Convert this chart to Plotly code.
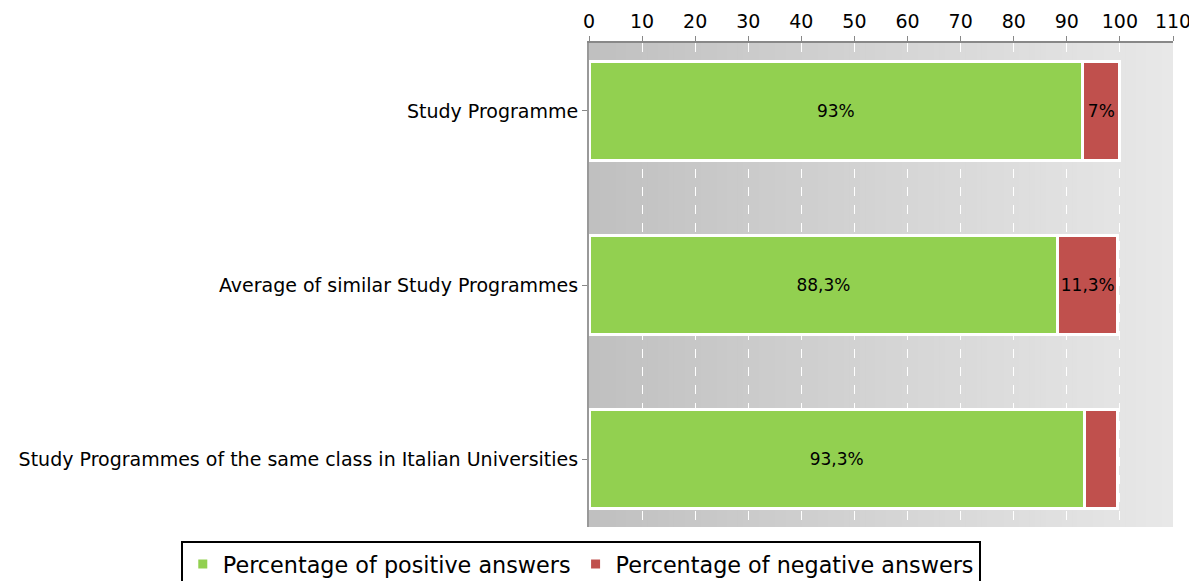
import plotly.graph_objects as go

categories = ["Study Programme", "Average of similar Study Programmes",
              "Study Programmes of the same class in Italian Universities"]
positive = [93, 88.3, 93.3]
negative = [7, 11.3, 6.3]
series_names = ["Percentage of positive answers", "Percentage of negative answers"]
x_ticks = list(range(0, 111, 10))


def fmt(v):
    return (f"{v:g}%").replace(".", ",")


FONT = "DejaVu Sans"
fig = go.Figure()
fig.add_trace(go.Bar(
    y=categories, x=positive, orientation="h", name=series_names[0],
    marker=dict(color="#92d050", line=dict(color="white", width=3)),
    text=[fmt(v) for v in positive], textposition="inside",
    insidetextanchor="middle", textangle=0,
    textfont=dict(color="black", size=17.5, family=FONT), width=0.57,
))
fig.add_trace(go.Bar(
    y=categories, x=negative, orientation="h", name=series_names[1],
    marker=dict(color="#c0504d", line=dict(color="white", width=3)),
    text=[fmt(v) for v in negative], textposition="inside",
    insidetextanchor="middle", textangle=0,
    textfont=dict(color="black", size=17.5, family=FONT), width=0.57,
))

# gradient background
shapes = []
n = 110
for i in range(n):
    c = int(round(192 + (232 - 192) * i / (n - 1)))
    shapes.append(dict(type="rect", xref="x", yref="paper", x0=i,
                       x1=min(i + 2, n), y0=0, y1=1,
                       fillcolor=f"rgb({c},{c},{c})",
                       line=dict(width=0), layer="below"))

fig.update_layout(
    barmode="stack",
    width=1189, height=573,
    margin=dict(l=581, r=24, t=35, b=54, autoexpand=False),
    paper_bgcolor="white", plot_bgcolor="#e6e6e6",
    font=dict(family=FONT, size=18, color="black"),
    shapes=shapes,
    showlegend=True,
    uniformtext=dict(minsize=15, mode="hide"),
    legend=dict(orientation="h", xref="paper", yref="paper",
                x=-0.699, xanchor="left", y=-0.029, yanchor="top",
                bordercolor="black", borderwidth=2,
                font=dict(size=22.3, family=FONT), traceorder="normal",
                itemwidth=30, tracegroupgap=0),
    xaxis=dict(side="top", range=[0, 110], tickvals=x_ticks,
               showgrid=True, gridcolor="white", griddash="dash", gridwidth=1,
               ticks="outside", ticklen=5, tickcolor="#888888",
               showline=True, linecolor="#888888", linewidth=2,
               zeroline=False, tickfont=dict(size=19), automargin=False,
               ticklabeloverflow="allow"),
    yaxis=dict(range=[2.39, -0.39], showgrid=False,
               ticks="outside", ticklen=5, tickcolor="#888888",
               showline=True, linecolor="#999999", linewidth=2,
               tickfont=dict(size=19), automargin=False),
)

fig.write_html("out.html")
